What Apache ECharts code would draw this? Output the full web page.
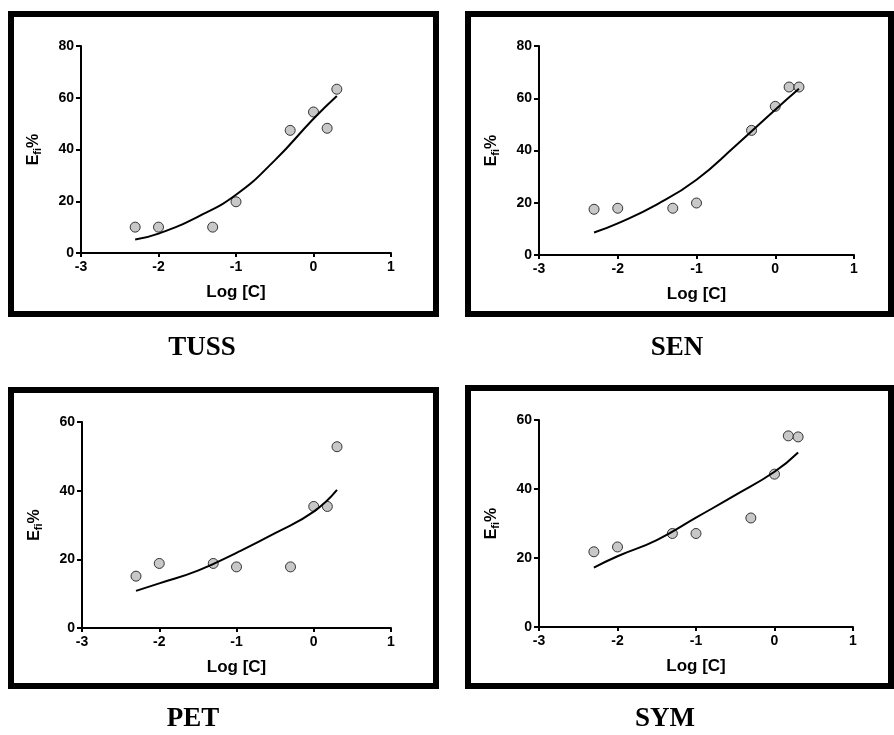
<!DOCTYPE html>
<html>
<head>
<meta charset="utf-8">
<script src="https://cdn.jsdelivr.net/npm/echarts@6/dist/echarts.min.js"></script>
<style>
  html, body { margin: 0; padding: 0; background: #fff; }
</style>
</head>
<body>
<div id="myChart" style="width:894px;height:735px;"></div>
<script>
// log concentrations of the measured points
var logC = [-2.301, -2, -1.301, -1, -0.301, 0, 0.176, 0.301];
var curveX = [-2.301, -2, -1.5, -1, -0.5, 0, 0.301];

var panelNames = ['TUSS', 'SEN', 'PET', 'SYM'];
var yMax = [80, 80, 60, 60];
var yInterval = [20, 20, 20, 20];
var xTicks = [-3, 1, 1]; // min, max, interval

// E fi % values
var tussPts = [10, 10, 10, 19.8, 47.4, 54.5, 48.2, 63.3];
var senPts = [17.5, 17.9, 17.9, 19.9, 47.7, 56.9, 64.3, 64.3];
var petPts = [15.1, 18.8, 18.8, 17.8, 17.8, 35.4, 35.4, 52.8];
var symPts = [21.8, 23.2, 27.1, 27.1, 31.6, 44.3, 55.4, 55.1];

var tussFit = [5.2, 7.5, 13.9, 22.5, 35.8, 51.9, 60.7];
var senFit = [8.6, 12.1, 19.4, 28.8, 41.9, 55.6, 63.6];
var petFit = [10.8, 13.0, 16.7, 21.9, 27.6, 33.9, 40.2];
var symFit = [17.2, 20.5, 25.2, 31.7, 38.2, 45.0, 50.6];

var allPts = [tussPts, senPts, petPts, symPts];
var allFit = [tussFit, senFit, petFit, symFit];

// plot areas
var grids = [
  {left: 81, top: 46, width: 310, height: 207},
  {left: 539, top: 46, width: 315, height: 209},
  {left: 82, top: 422, width: 309, height: 206},
  {left: 539, top: 420, width: 314, height: 207}
];
// frames drawn round each panel
var frames = [
  {x: 11, y: 14, width: 425, height: 300},
  {x: 468, y: 14, width: 423, height: 300},
  {x: 11, y: 390, width: 425, height: 296},
  {x: 468, y: 388, width: 423, height: 298}
];
var labelPos = [[202, 362], [677, 362], [193, 733], [665, 733]];

var sans = 'Liberation Sans, Arial, sans-serif';

function pairs(xs, ys) {
  return xs.map(function (x, i) { return [x, ys[i]]; });
}

var xAxis = [], yAxis = [], series = [], graphic = [];
for (var i = 0; i < 4; i++) {
  xAxis.push({
    type: 'value', gridIndex: i,
    min: xTicks[0], max: xTicks[1], interval: xTicks[2],
    name: 'Log [C]', nameLocation: 'middle', nameGap: 31,
    nameTextStyle: {color: '#000', fontWeight: 'bold', fontSize: 17, fontFamily: sans},
    axisLine: {show: true, onZero: false, lineStyle: {color: '#000', width: 2}},
    axisTick: {show: true, length: 4, lineStyle: {color: '#000', width: 2}},
    axisLabel: {color: '#000', fontWeight: 'bold', fontSize: 14, fontFamily: sans, margin: 7},
    splitLine: {show: false}
  });
  yAxis.push({
    type: 'value', gridIndex: i,
    min: 0, max: yMax[i], interval: yInterval[i],
    name: '{e|E}{s|fi}{e|%}', nameLocation: 'middle', nameRotate: 90, nameGap: 38,
    nameTextStyle: {
      color: '#000', fontWeight: 'bold', fontFamily: sans,
      rich: {
        e: {fontSize: 16, fontWeight: 'bold', fontFamily: sans, color: '#000', lineHeight: 18},
        s: {fontSize: 11, fontWeight: 'bold', fontFamily: sans, color: '#000', lineHeight: 18, verticalAlign: 'bottom', padding: [8, 0, 0, 0]}
      }
    },
    axisLine: {show: true, onZero: false, lineStyle: {color: '#000', width: 2}},
    axisTick: {show: true, length: 5, lineStyle: {color: '#000', width: 2}},
    axisLabel: {color: '#000', fontWeight: 'bold', fontSize: 14, fontFamily: sans, margin: 7},
    splitLine: {show: false}
  });
  series.push({
    type: 'scatter', xAxisIndex: i, yAxisIndex: i,
    data: pairs(logC, allPts[i]),
    symbol: 'circle', symbolSize: 10, z: 2,
    itemStyle: {color: '#c8c8c8', borderColor: '#333', borderWidth: 1, opacity: 1}
  });
  series.push({
    type: 'line', xAxisIndex: i, yAxisIndex: i,
    data: pairs(curveX, allFit[i]),
    smooth: true, showSymbol: false, z: 3,
    lineStyle: {color: '#000', width: 2}
  });
  graphic.push({
    type: 'rect', shape: frames[i], silent: true,
    style: {fill: 'none', stroke: '#000', lineWidth: 6}
  });
  graphic.push({
    type: 'text', x: labelPos[i][0], y: labelPos[i][1], silent: true,
    style: {
      text: panelNames[i], textAlign: 'center', textVerticalAlign: 'bottom',
      fill: '#000', font: 'bold 27px "Liberation Serif", "Times New Roman", serif'
    }
  });
}

var myChart = echarts.init(document.getElementById('myChart'));
myChart.setOption({
  backgroundColor: '#fff',
  animation: false,
  grid: grids.map(function (g) { return Object.assign({containLabel: false}, g); }),
  xAxis: xAxis,
  yAxis: yAxis,
  series: series,
  graphic: graphic
});
</script>
</body>
</html>
